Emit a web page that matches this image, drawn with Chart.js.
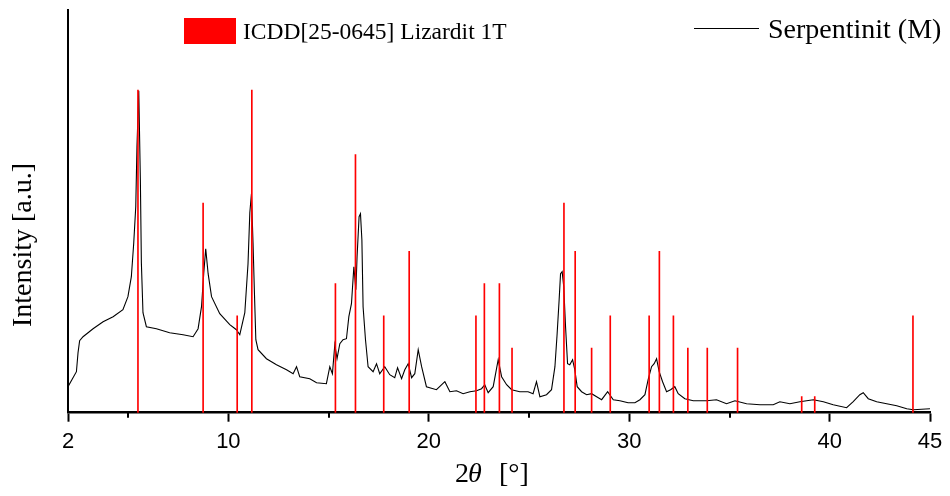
<!DOCTYPE html>
<html>
<head>
<meta charset="utf-8">
<script src="https://cdn.jsdelivr.net/npm/chart.js@4.4.1/dist/chart.umd.min.js"></script>
<style>
	body { margin: 0; background: #fff; }
	#wrap { width: 950px; height: 496px; }
</style>
</head>
<body>
<div id="wrap"><canvas id="xrd"></canvas></div>
<script>
// measured pattern, Serpentinit (M): 2theta [deg] and intensity [a.u.]
const angles = [2.00, 2.42, 2.50, 2.58, 2.75, 3.25, 3.75, 4.25, 4.74, 4.99, 5.16, 5.28, 5.38, 5.44, 5.53, 5.61, 5.66, 5.74, 5.91, 6.41,
	7.07, 7.74, 8.24, 8.49, 8.66, 8.77, 8.87, 8.99, 9.16, 9.57, 10.07, 10.40, 10.57, 10.82, 10.98, 11.07, 11.15, 11.23, 11.30, 11.37,
	11.48, 11.90, 12.40, 12.90, 13.23, 13.40, 13.56, 14.06, 14.40, 14.89, 15.06, 15.19, 15.31, 15.42, 15.56, 15.72, 15.89, 16.01, 16.14, 16.26,
	16.36, 16.42, 16.52, 16.59, 16.66, 16.72, 16.84, 16.97, 17.22, 17.39, 17.55, 17.80, 18.05, 18.30, 18.44, 18.64, 18.80, 18.97, 19.14, 19.30,
	19.47, 19.64, 19.88, 20.38, 20.80, 21.05, 21.38, 21.71, 22.05, 22.38, 22.63, 22.79, 22.96, 23.21, 23.46, 23.63, 23.88, 24.13, 24.54, 24.95,
	25.20, 25.37, 25.54, 25.87, 26.12, 26.29, 26.40, 26.50, 26.57, 26.65, 26.73, 26.82, 26.92, 27.03, 27.17, 27.28, 27.40, 27.62, 27.87, 28.12,
	28.37, 28.62, 28.92, 29.20, 29.53, 29.94, 30.28, 30.53, 30.78, 30.94, 31.11, 31.24, 31.36, 31.49, 31.66, 31.86, 32.06, 32.27, 32.44, 32.77,
	33.19, 33.86, 34.35, 34.85, 35.27, 35.85, 36.52, 37.18, 37.51, 38.01, 38.51, 39.18, 39.68, 40.17, 40.84, 41.17, 41.50, 41.67, 41.92, 42.34,
	42.84, 43.34, 43.84, 44.17, 45.00];
const counts = [26, 41, 60, 72, 76, 84, 91, 96, 103, 116, 136, 170, 206, 266, 322, 233, 150, 100, 86, 84,
	80, 78, 76, 84, 106, 139, 164, 139, 116, 99, 88, 83, 78, 100, 149, 200, 219, 170, 120, 73,
	63, 54, 48, 43, 39, 46, 36, 34, 30, 29, 46, 39, 68, 54, 69, 73, 74, 96, 109, 146,
	123, 156, 196, 199, 173, 106, 73, 46, 41, 49, 39, 46, 38, 35, 45, 34, 43, 49, 35, 39,
	63, 46, 26, 23, 31, 21, 22, 19, 21, 22, 24, 28, 20, 26, 53, 36, 28, 23, 21, 21,
	19, 31, 16, 18, 23, 46, 79, 113, 139, 141, 126, 86, 49, 48, 53, 43, 26, 21, 18, 19,
	16, 13, 21, 13, 12, 10, 10, 13, 18, 33, 46, 49, 54, 41, 31, 21, 23, 26, 19, 14,
	12, 12, 13, 9, 12, 9, 8, 8, 11, 9, 11, 13, 11, 8, 5, 11, 18, 20, 14, 11,
	9, 7, 4, 3, 4];

// reference pattern ICDD[25-0645] Lizardit 1T: 2theta [deg] and relative intensity [%]
const refAngles = [5.49, 8.74, 10.44, 11.17, 15.34, 16.34, 17.75, 19.02, 22.35, 22.77, 23.52, 24.15, 26.74,
	27.30, 28.12, 29.05, 30.99, 31.50, 32.20, 32.92, 33.89, 35.40, 38.60, 39.25, 44.15];
const refInt = [100, 65, 30, 100, 40, 80, 30, 50, 30, 40, 40, 20, 65,
	50, 20, 30, 30, 50, 30, 20, 20, 20, 5, 5, 30];

const xMajor = [2, 10, 20, 30, 40, 45];
const xMinor = [5, 15, 25, 35];

const serif = '"Liberation Serif", "Times New Roman", serif';
const sans = '"Liberation Sans", Arial, sans-serif';

const decor = {
	id: 'decor',
	afterDraw(chart) {
		const ctx = chart.ctx;
		const xs = chart.scales.x;
		ctx.save();
		// minor ticks
		ctx.strokeStyle = '#000';
		ctx.lineWidth = 2;
		xMinor.forEach(function(v) {
			const px = Math.round(xs.getPixelForValue(v));
			ctx.beginPath();
			ctx.moveTo(px, xs.top);
			ctx.lineTo(px, xs.top + 5);
			ctx.stroke();
		});

		// legend
		const ds = chart.data.datasets;
		ctx.fillStyle = ds[0].backgroundColor;
		ctx.fillRect(184, 18, 52, 26);
		ctx.fillStyle = '#000';
		ctx.textBaseline = 'alphabetic';
		ctx.textAlign = 'left';
		ctx.font = '23.5px ' + serif;
		ctx.fillText(ds[0].label, 243, 39);
		ctx.strokeStyle = ds[1].borderColor;
		ctx.lineWidth = 1;
		ctx.beginPath();
		ctx.moveTo(694, 28.5);
		ctx.lineTo(759, 28.5);
		ctx.stroke();
		ctx.font = '28px ' + serif;
		ctx.fillText(ds[1].label, 768, 38);

		// x title
		ctx.font = '28px ' + serif;
		ctx.fillText('2', 455, 482);
		ctx.font = 'italic 28px ' + serif;
		ctx.fillText('\u03b8', 468, 482);
		ctx.font = '28px ' + serif;
		ctx.fillText('[\u00b0]', 499, 482);

		// y title
		ctx.translate(31, 327);
		ctx.rotate(-Math.PI / 2);
		ctx.fillText('Intensity [a.u.]', 0, 0);
		ctx.restore();
	}
};

const ctx = document.getElementById('xrd').getContext('2d');
const chart = new Chart(ctx, {
	type: 'line',
	data: {
		datasets: [
			{
				type: 'bar',
				label: 'ICDD[25-0645] Lizardit 1T',
				data: refAngles.map((a, i) => ({x: a, y: refInt[i]})),
				backgroundColor: '#ff0000',
				borderWidth: 0,
				barThickness: 1,
				yAxisID: 'y2',
				order: 0
			},
			{
				label: 'Serpentinit (M)',
				data: angles.map((a, i) => ({x: a, y: counts[i]})),
				borderColor: '#000',
				borderWidth: 1.1,
				pointRadius: 0,
				tension: 0,
				fill: false,
				yAxisID: 'y',
				order: 1
			}
		]
	},
	options: {
		responsive: true,
		maintainAspectRatio: false,
		animation: false,
		events: [],
		layout: { padding: { top: 9.5, right: 20, left: 0, bottom: 0 } },
		plugins: {
			legend: { display: false },
			tooltip: { enabled: false }
		},
		scales: {
			x: {
				type: 'linear',
				min: 2,
				max: 45,
				offset: false,
				afterBuildTicks: function(scale) {
					scale.ticks = xMajor.map(v => ({value: v}));
				},
				afterFit: function(scale) {
					scale.height = 83.3;
				},
				ticks: {
					autoSkip: false,
					maxRotation: 0,
					padding: 7,
					color: '#000',
					font: { family: sans, size: 22 },
					callback: v => String(v)
				},
				grid: {
					offset: false,
					drawOnChartArea: false,
					drawTicks: true,
					tickLength: 9,
					tickColor: '#000',
					tickWidth: 2
				},
				border: { display: true, color: '#000', width: 2.5 }
			},
			y: {
				min: 0,
				max: 403.2,
				afterFit: function(scale) {
					scale.width = 68;
				},
				ticks: { display: false },
				grid: { display: false },
				border: { display: true, color: '#000', width: 2 }
			},
			y2: {
				min: 0,
				max: 125,
				display: false
			}
		}
	},
	plugins: [decor]
});
</script>
</body>
</html>
